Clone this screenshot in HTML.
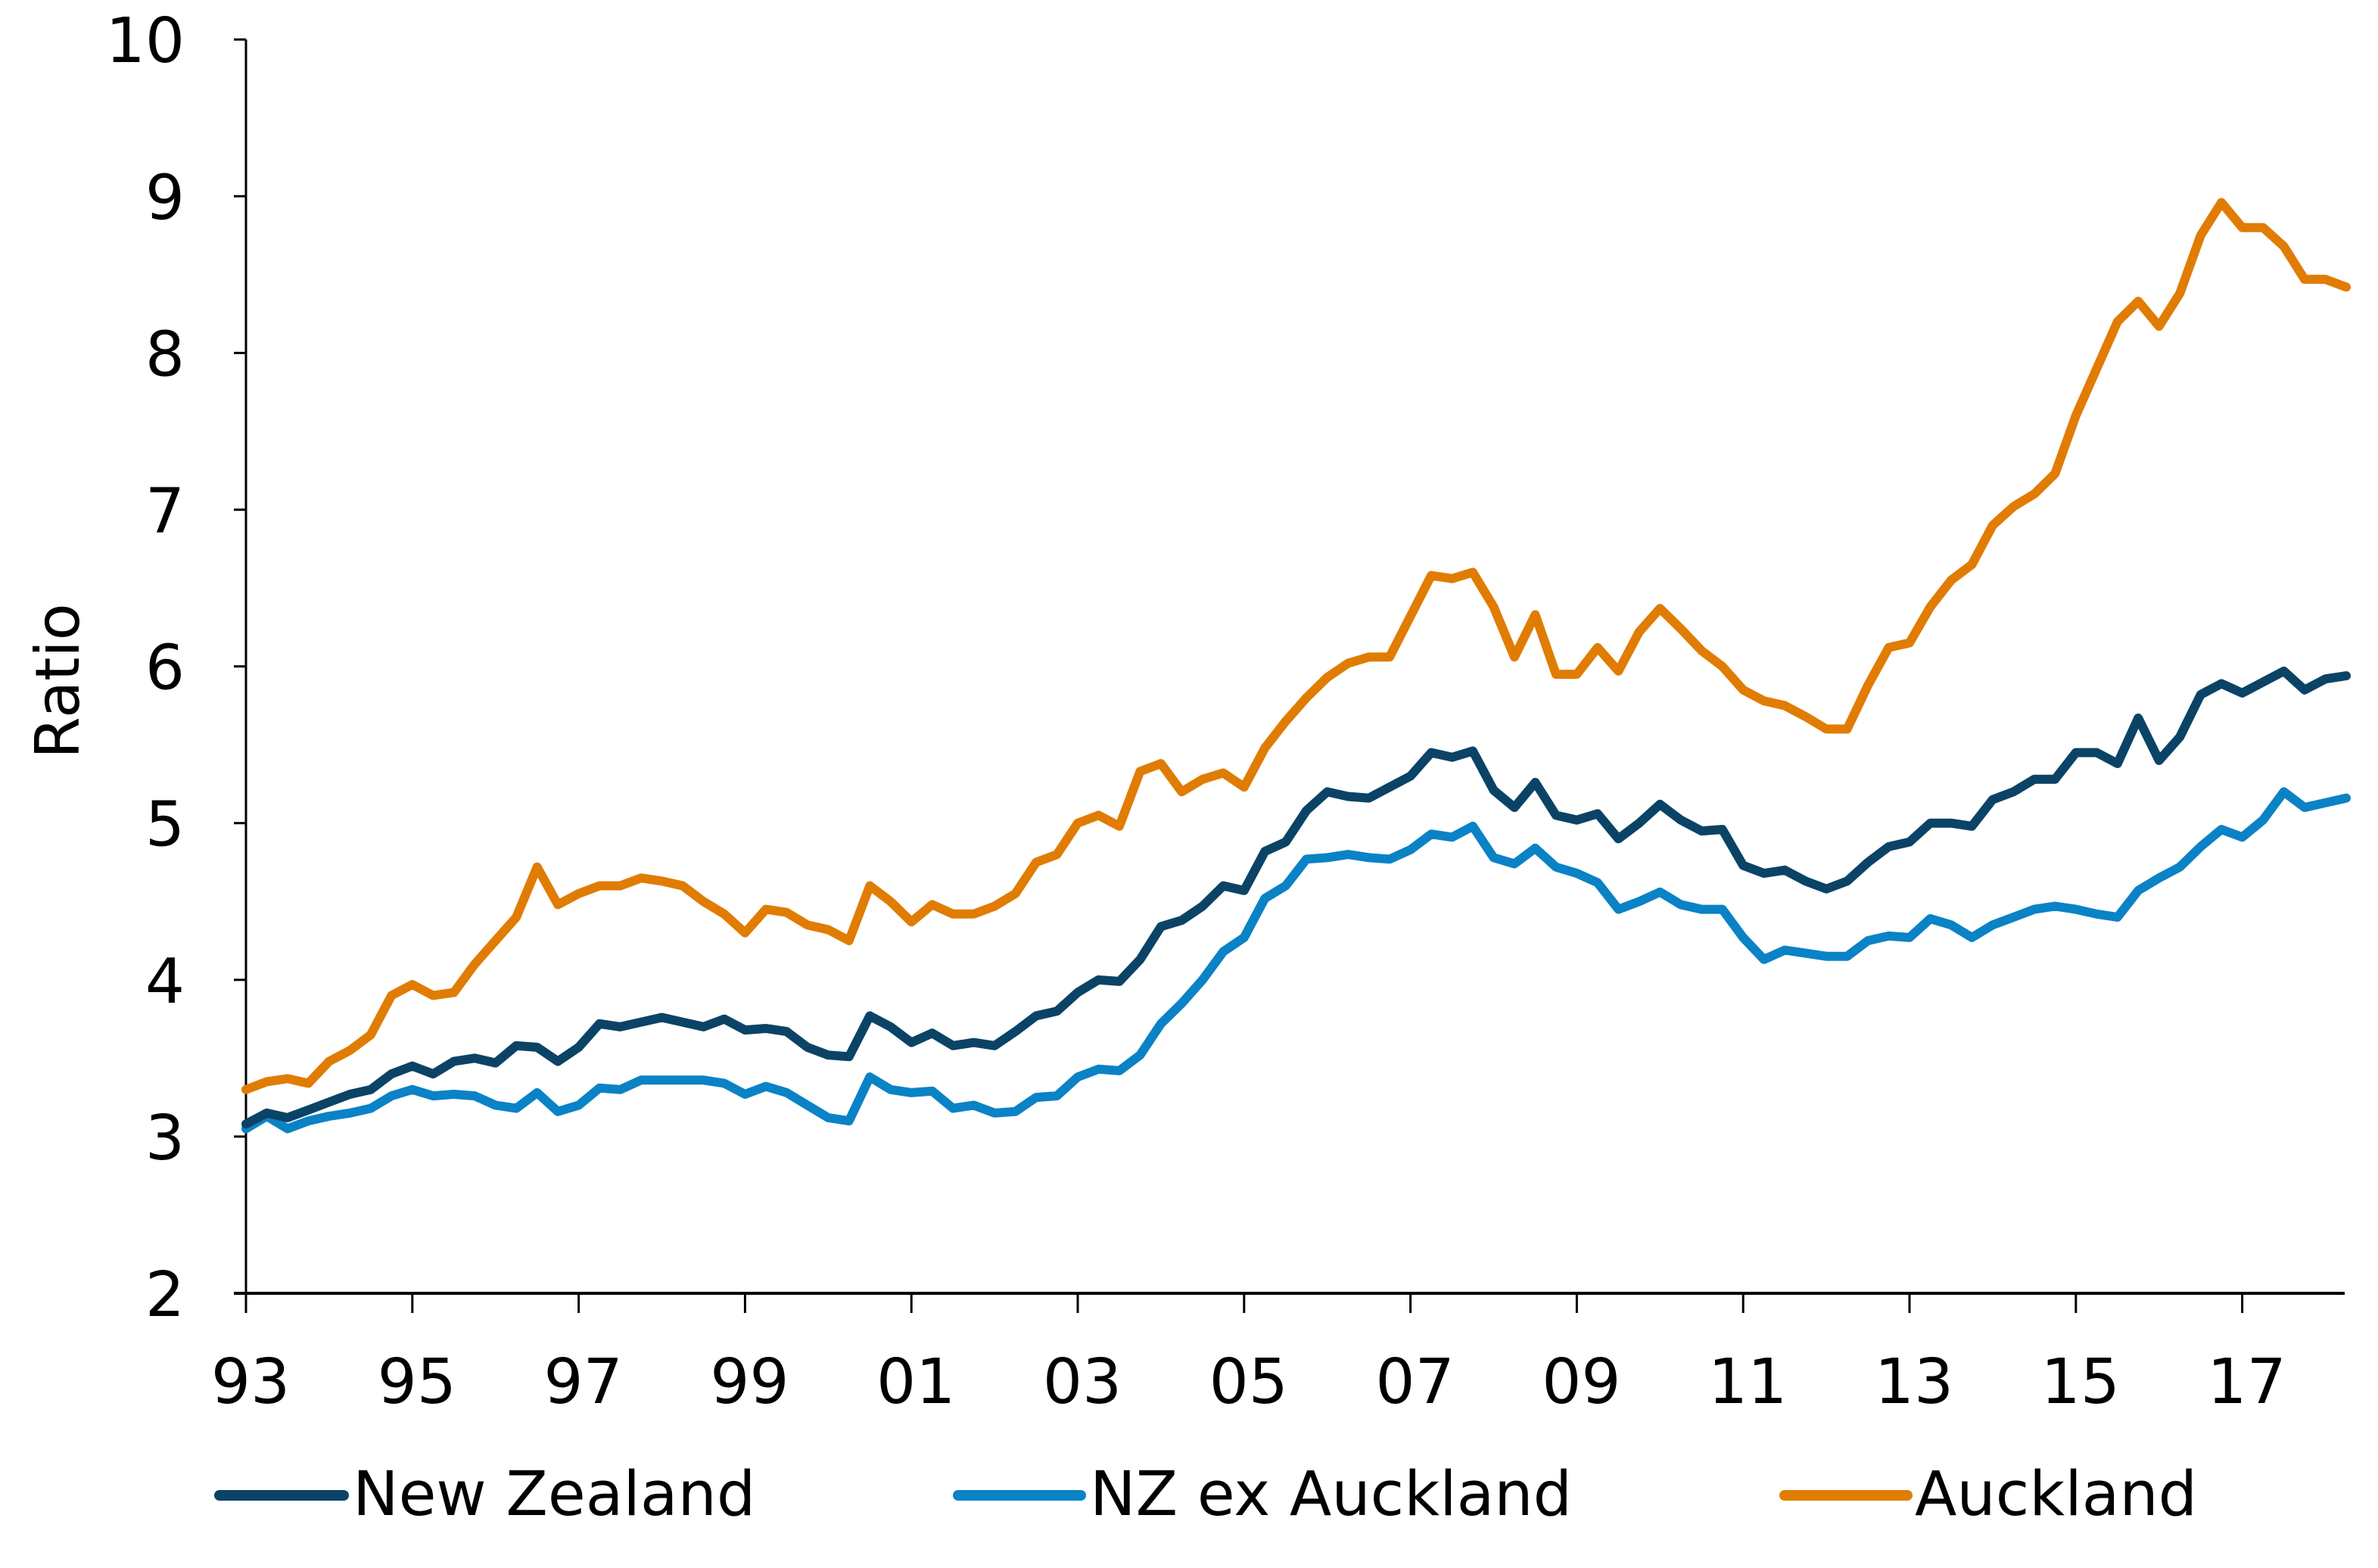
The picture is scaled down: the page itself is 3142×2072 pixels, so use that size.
<!DOCTYPE html>
<html><head><meta charset="utf-8"><style>
html,body{margin:0;padding:0;background:#fff}
svg{display:block}
text{font-family:"DejaVu Sans","Liberation Sans",sans-serif;fill:#000}
</style></head><body>
<svg id="chart" width="3142" height="2072" viewBox="0 0 3142 2072" xmlns="http://www.w3.org/2000/svg">
<g id="axes"></g>
<g id="series"></g>
<text transform="translate(104,900) rotate(-90)" text-anchor="middle" font-size="80">Ratio</text>
<g>
<g><line x1="290" y1="1976" x2="454" y2="1976" stroke="#0b4366" stroke-width="14" stroke-linecap="round"/><text x="466" y="2002" font-size="81">New Zealand</text></g>
<g><line x1="1266" y1="1976" x2="1428" y2="1976" stroke="#0a82c6" stroke-width="14" stroke-linecap="round"/><text x="1440" y="2002" font-size="81">NZ ex Auckland</text></g>
<g><line x1="2358" y1="1976" x2="2520" y2="1976" stroke="#e17c02" stroke-width="14" stroke-linecap="round"/><text x="2530" y="2002" font-size="81">Auckland</text></g>
</g>
</svg>
<script>
const yTicks = [2,3,4,5,6,7,8,9,10];
const xTickLabels = ["93","95","97","99","01","03","05","07","09","11","13","15","17"];
const xTickIndex = [0,8,16,24,32,40,48,56,64,72,80,88,96];
const auckland = [3.3,3.35,3.37,3.34, 3.48,3.55,3.65,3.9, 3.97,3.9,3.92,4.1, 4.25,4.4,4.72,4.48, 4.55,4.6,4.6,4.65, 4.63,4.6,4.5,4.42, 4.3,4.45,4.43,4.35, 4.32,4.25,4.6,4.5, 4.37,4.48,4.42,4.42, 4.47,4.55,4.75,4.8, 5.0,5.05,4.98,5.33, 5.38,5.2,5.28,5.32, 5.23,5.48,5.65,5.8, 5.93,6.02,6.06,6.06, 6.32,6.58,6.56,6.6, 6.38,6.06,6.33,5.95, 5.95,6.12,5.97,6.22, 6.37,6.24,6.1,6.0, 5.85,5.78,5.75,5.68, 5.6,5.6,5.88,6.12, 6.15,6.38,6.55,6.65, 6.9,7.02,7.1,7.23, 7.6,7.9,8.2,8.33, 8.17,8.38,8.75,8.96, 8.8,8.8,8.68,8.47, 8.47,8.42];
const newZealand = [3.08,3.15,3.12,3.17, 3.22,3.27,3.3,3.4, 3.45,3.4,3.48,3.5, 3.47,3.58,3.57,3.48, 3.57,3.72,3.7,3.73, 3.76,3.73,3.7,3.75, 3.68,3.69,3.67,3.57, 3.52,3.51,3.77,3.7, 3.6,3.66,3.58,3.6, 3.58,3.67,3.77,3.8, 3.92,4.0,3.99,4.13, 4.34,4.38,4.47,4.6, 4.57,4.82,4.88,5.08, 5.2,5.17,5.16,5.23, 5.3,5.45,5.42,5.46, 5.21,5.1,5.26,5.05, 5.02,5.06,4.9,5.0, 5.12,5.02,4.95,4.96, 4.73,4.68,4.7,4.63, 4.58,4.63,4.75,4.85, 4.88,5.0,5.0,4.98, 5.15,5.2,5.28,5.28, 5.45,5.45,5.38,5.67, 5.4,5.55,5.82,5.89, 5.83,5.9,5.97,5.85, 5.92,5.94];
const nzExAuckland = [3.05,3.13,3.05,3.1, 3.13,3.15,3.18,3.26, 3.3,3.26,3.27,3.26, 3.2,3.18,3.28,3.16, 3.2,3.31,3.3,3.36, 3.36,3.36,3.36,3.34, 3.27,3.32,3.28,3.2, 3.12,3.1,3.38,3.3, 3.28,3.29,3.18,3.2, 3.15,3.16,3.25,3.26, 3.38,3.43,3.42,3.52, 3.72,3.85,4.0,4.18, 4.27,4.52,4.6,4.77, 4.78,4.8,4.78,4.77, 4.83,4.93,4.91,4.98, 4.78,4.74,4.84,4.72, 4.68,4.62,4.45,4.5, 4.56,4.48,4.45,4.45, 4.27,4.13,4.19,4.17, 4.15,4.15,4.25,4.28, 4.27,4.39,4.35,4.27, 4.35,4.4,4.45,4.47, 4.45,4.42,4.4,4.57, 4.65,4.72,4.85,4.96, 4.91,5.02,5.2,5.1, 5.13,5.16];

const NS='http://www.w3.org/2000/svg';
const X0=325, QW=27.475, Y0=1709, YU=207.1, XEND=3098;
function xs(i){return X0+i*QW;}
function ys(v){return Y0-(v-2)*YU;}
function mk(tag,attrs,parent){const e=document.createElementNS(NS,tag);for(const k in attrs)e.setAttribute(k,attrs[k]);parent.appendChild(e);return e;}
const axes=document.getElementById('axes');
const ya=mk('line',{x1:X0,y1:ys(10),x2:X0,y2:Y0,stroke:'#000','stroke-width':3},axes);


const xa=mk('line',{x1:X0-16,y1:Y0,x2:XEND,y2:Y0,stroke:'#000','stroke-width':4},axes);


yTicks.forEach(v=>{
  const t=mk('line',{x1:X0-16,y1:ys(v),x2:X0,y2:ys(v),stroke:'#000','stroke-width':3},axes);
  
  
  const l=mk('text',{x:244,y:ys(v)+30,'text-anchor':'end','font-size':82},axes);
  
  
  l.textContent=v;
});
xTickLabels.forEach((s,k)=>{
  const x=xs(xTickIndex[k]);
  const t=mk('line',{x1:x,y1:Y0,x2:x,y2:Y0+26,stroke:'#000','stroke-width':3},axes);
  
  
  const l=mk('text',{x:x+6,y:1854,'text-anchor':'middle','font-size':82},axes);
  
  
  l.textContent=s;
});
const ser=document.getElementById('series');
function line(data,color,name){
  const d=data.map((v,i)=>(i?'L':'M')+xs(i).toFixed(1)+' '+ys(v).toFixed(1)).join(' ');
  const p=mk('path',{d:d,fill:'none',stroke:color,'stroke-width':12,'stroke-linejoin':'round','stroke-linecap':'round'},ser);
  
  
}
line(nzExAuckland,'#0a82c6','line-nz-ex-auckland');
line(newZealand,'#0b4366','line-new-zealand');
line(auckland,'#e17c02','line-auckland');
</script>
</body></html>
